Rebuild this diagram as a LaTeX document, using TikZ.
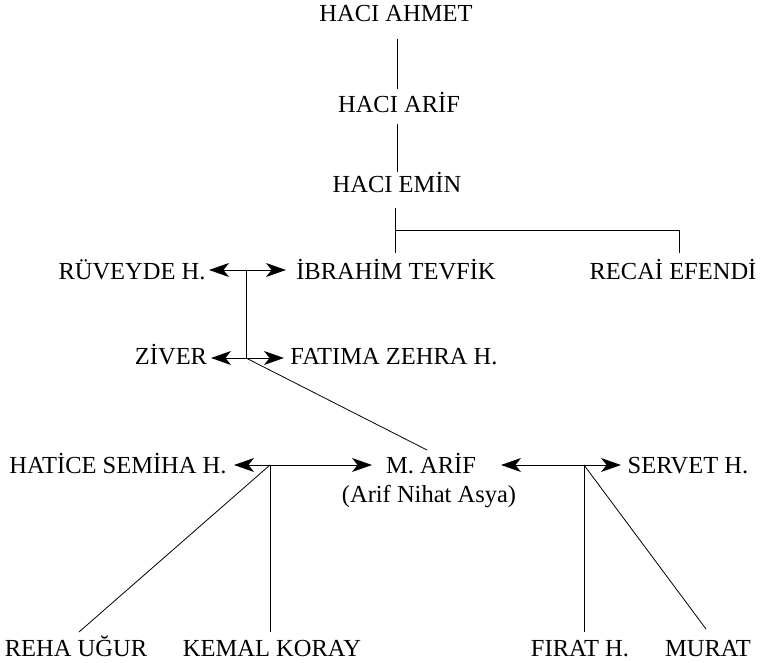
\documentclass[tikz,border=0pt]{standalone}
\usepackage{fontspec}
\setmainfont{Liberation Serif}
\begin{document}
\begin{tikzpicture}[x=1pt,y=-1pt,
  person/.style={anchor=base,inner sep=0pt,font=\fontsize{24.5}{28}\selectfont},
  link/.style={line width=0.8pt},
  leftbarb/.pic={\fill[black] (0,0) -- (20,-7) -- (14.5,0) -- (20,7) -- cycle;},
  rightbarb/.pic={\fill[black] (0,0) -- (-20,-7) -- (-14.5,0) -- (-20,7) -- cycle;}]
\useasboundingbox (0,0) rectangle (764,663);
% people
\node[person] (ahmet) at (396,22) {HACI AHMET};
\node[person] (arif) at (399,113) {HACI ARİF};
\node[person] (emin) at (397,193) {HACI EMİN};
\node[person] (ruveyde) at (132,280) {RÜVEYDE H.};
\node[person] (ibrahim) at (396,280) {İBRAHİM TEVFİK};
\node[person] (recai) at (673,280) {RECAİ EFENDİ};
\node[person] (ziver) at (171,365) {ZİVER};
\node[person] (fatima) at (394,365) {FATIMA ZEHRA H.};
\node[person] (hatice) at (118,473) {HATİCE SEMİHA H.};
\node[person] (marif) at (431,473) {M. ARİF};
\node[person] (asya) at (429,502) {(Arif Nihat Asya)};
\node[person] (servet) at (688,473) {SERVET H.};
\node[person] (reha) at (76,656) {REHA UĞUR};
\node[person] (kemal) at (272,656) {KEMAL KORAY};
\node[person] (firat) at (580,656) {FIRAT H.};
\node[person] (murat) at (708,656) {MURAT};
% connection points
\coordinate (a1) at (397,39);  \coordinate (a2) at (397,89);
\coordinate (b1) at (397,124); \coordinate (b2) at (397,172);
\coordinate (c1) at (395,208); \coordinate (c2) at (395,230);
\coordinate (c3) at (395,253); \coordinate (c4) at (679,230);
\coordinate (c5) at (679,253);
\coordinate (j1) at (246,270); \coordinate (j1l) at (209,270); \coordinate (j1r) at (286,270);
\coordinate (j2) at (246,358); \coordinate (j2l) at (211,358); \coordinate (j2r) at (284,358);
\coordinate (m1) at (427,450);
\coordinate (j3) at (270,465); \coordinate (j3l) at (234,465); \coordinate (j3r) at (372,465);
\coordinate (j4) at (584,465); \coordinate (j4l) at (501,465); \coordinate (j4r) at (621,465);
\coordinate (k1) at (79,632);  \coordinate (k2) at (270,632);
\coordinate (k3) at (584,632); \coordinate (k4) at (706,629);
% lines of descent
\draw[link] (a1) -- (a2);
\draw[link] (b1) -- (b2);
\draw[link] (c1) -- (c3);
\draw[link] (c2) -- (c4) -- (c5);
\draw[link] (j1) -- (j2);
\draw[link] (j2) -- (m1);
\draw[link] (j3) -- (k1);
\draw[link] (j3) -- (k2);
\draw[link] (j4) -- (k3);
\draw[link] (j4) -- (k4);
% marriages
\draw[link] (j1) -- ([xshift=4pt]j1l) (j1l) pic{leftbarb};
\draw[link] (j1) -- ([xshift=-4pt]j1r) (j1r) pic{rightbarb};
\draw[link] (j2) -- ([xshift=4pt]j2l) (j2l) pic{leftbarb};
\draw[link] (j2) -- ([xshift=-4pt]j2r) (j2r) pic{rightbarb};
\draw[link] (j3) -- ([xshift=4pt]j3l) (j3l) pic{leftbarb};
\draw[link] (j3) -- ([xshift=-4pt]j3r) (j3r) pic{rightbarb};
\draw[link] (j4) -- ([xshift=4pt]j4l) (j4l) pic{leftbarb};
\draw[link] (j4) -- ([xshift=-4pt]j4r) (j4r) pic{rightbarb};
\end{tikzpicture}
\end{document}
